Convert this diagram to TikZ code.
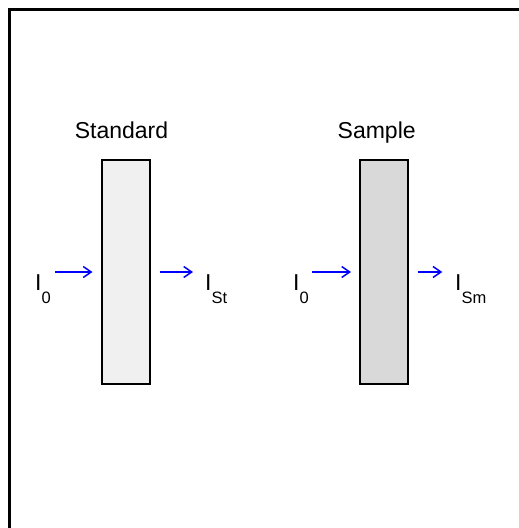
\documentclass[tikz,border=0pt]{standalone}
\usepackage{fontspec}
\setmainfont{Liberation Sans}
\usetikzlibrary{positioning, arrows.meta}
\newcommand{\isub}[1]{I\raisebox{-13pt}{\fontsize{16.5}{18}\selectfont #1}}

\begin{document}
\begin{tikzpicture}[x=1pt, y=-1pt, font=\fontsize{23}{27}\selectfont,
  cell/.style={draw, line width=2pt, minimum width=48pt, minimum height=224pt, inner sep=0pt},
  flow/.style={draw=blue, line width=1.5pt, -{Straight Barb[length=8pt, width=11pt]}},
  lab/.style={anchor=base west, inner sep=0pt}]
  \useasboundingbox (0,0) rectangle (519,528);
  \clip (0,0) rectangle (519,528);
  \draw[line width=3pt] (9,9.5) rectangle (540,560);
  \node[cell, fill=black!6]  (std) at (126,272) {};
  \node[cell, fill=black!15] (smp) at (384,272) {};
  \node[above=21pt of std, anchor=base, xshift=-4.5pt, inner sep=0pt] (stdt) {Standard};
  \node[above=21pt of smp, anchor=base, xshift=-7.3pt, inner sep=0pt] (smpt) {Sample};
  \node[lab] (stdin)  at (35,290)  {\isub{0}};
  \node[lab] (stdout) at (205,290) {\isub{St}};
  \node[lab] (smpin)  at (293,290) {\isub{0}};
  \node[lab] (smpout) at (455,290) {\isub{Sm}};
  \foreach \n/\a/\b in {std/46/8.5, smp/46.7/8}
    \draw[flow] ([xshift=-\a pt]\n.west) -- ([xshift=-\b pt]\n.west);
  \foreach \n/\a/\b in {std/8.7/42, smp/8.7/33.3}
    \draw[flow] ([xshift=\a pt]\n.east) -- ([xshift=\b pt]\n.east);
\end{tikzpicture}
\end{document}
